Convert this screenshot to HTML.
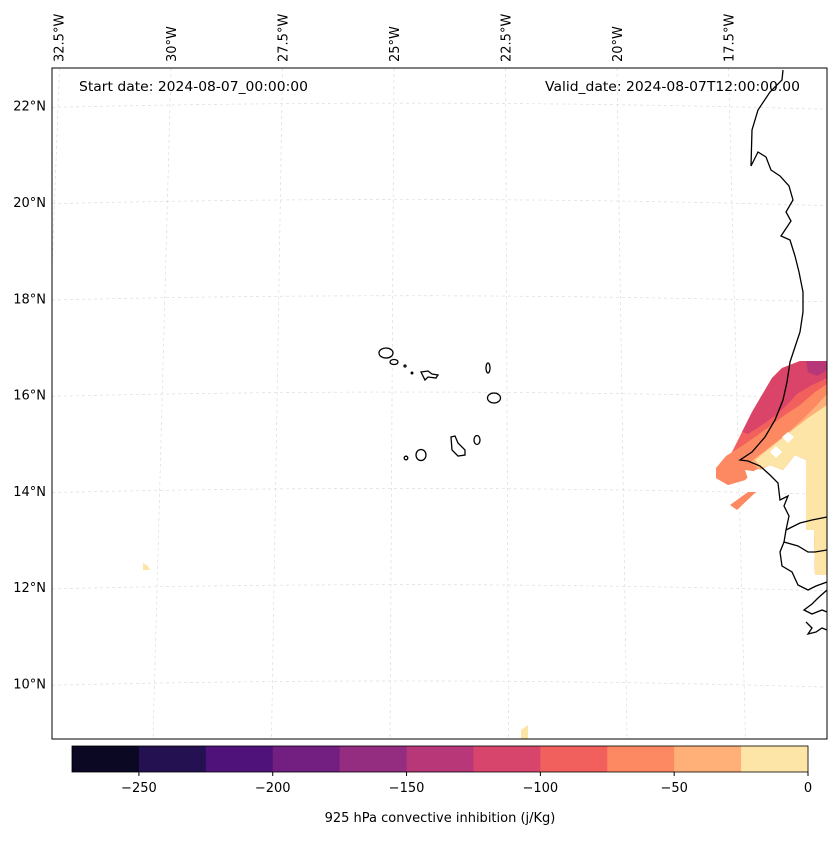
<!DOCTYPE html>
<html><head><meta charset="utf-8">
<style>
body{margin:0;background:#fff;}
svg text{font-family:"DejaVu Sans","Liberation Sans",sans-serif;fill:#000;}
</style></head>
<body>
<svg id="chart" width="837" height="836" viewBox="0 0 837 836" xmlns="http://www.w3.org/2000/svg">
<defs><clipPath id="mapclip"><rect x="52" y="68" width="775" height="671"/></clipPath></defs>
<rect width="837" height="836" fill="#fff"/>
<g id="map" clip-path="url(#mapclip)">
  <g id="grid" stroke="#dddddd" stroke-width="0.7" stroke-dasharray="3,3" fill="none"></g>
  <g id="fills">
    <polygon fill="#f1605d" points="800,361 827,361 827,575 815,575 814,530 806,530 806,460 795,455 783,470 770,465 755,470 745,480 728,485 716,478 716,468 732,452 742,432 752,412 762,395 772,378 782,368"/>
    <polygon fill="#da4468" points="800,361 827,361 827,378 812,385 797,394 787,405 776,415 762,425 748,434 742,432 752,412 762,395 772,378 782,368"/>
    <polygon fill="#b73779" points="806,361 827,361 827,370 817,376 808,372"/>
    <polygon fill="#fc8961" points="827,384 827,575 815,575 814,530 806,530 806,460 795,455 783,470 770,465 755,470 745,480 728,485 716,478 716,468 726,456 742,446 762,432 782,417 800,405 815,392"/>
    <polygon fill="#fc8961" points="748,492 756,492 737,510 730,505"/>
    <polygon fill="#feb078" points="827,394 827,575 815,575 814,530 806,530 806,460 795,455 783,470 770,465 760,470 750,462 766,450 784,436 802,420 816,406"/>
    <polygon fill="#fde5a7" points="827,405 827,575 815,575 814,530 806,530 806,460 795,455 783,470 770,465 762,468 755,460 770,448 790,432 808,418"/>
    <polygon fill="#fff" points="788,432 794,437 788,443 782,437"/>
    <polygon fill="#fff" points="776,446 782,452 776,458 770,452"/>
    <polygon fill="#fff" points="745,470 760,472 770,480 776,490 790,500 806,500 806,530 780,530 770,500 750,485"/>
    <polygon fill="#fde5a7" points="143,563 148,566 150,570 143,570"/>
    <polygon fill="#fde5a7" points="521,730 528,725 528,739 521,739"/>
  </g>
  <g id="coast" stroke="#000" stroke-width="1.3" fill="none">
    <polyline points="783,70 782,80 770,92 758,110 752,130 751,166 758,152 766,157 771,170 780,176 789,186 793,200 786,212 791,221 785,230 781,236 790,240 795,256 799,272 803,292 803,312 800,332 795,347 790,362 787,382 783,400 775,420 765,437 752,452 740,460 748,461 760,466 770,475 778,483 780,500 788,496 784,506 789,516 786,530 784,542 798,546 808,552 815,552 827,550"/>
    <polyline points="786,530 800,523 812,520 827,517"/>
    <polyline points="784,542 780,552 782,566 792,572 798,585 808,590 816,586 827,582"/>
    <polyline points="827,590 818,598 812,604 804,610 812,614 822,610 827,612"/>
    <polyline points="806,622 812,628 808,634 816,632 822,628 827,630"/>
    <ellipse cx="386" cy="353" rx="7" ry="5"/>
    <ellipse cx="394" cy="362" rx="4" ry="2.5"/>
    <circle cx="405" cy="366" r="1"/>
    <circle cx="412" cy="373" r="0.8"/>
    <path d="M421,372 L428,371 L432,374 L438,375 L436,378 L428,377 L425,380 Z"/>
    <ellipse cx="488" cy="368" rx="2" ry="5"/>
    <ellipse cx="494" cy="398" rx="6.5" ry="5"/>
    <ellipse cx="477" cy="440" rx="3" ry="4.5"/>
    <path d="M451,437 L455,436 L458,443 L465,450 L465,455 L458,456 L452,450 Z"/>
    <ellipse cx="421" cy="455" rx="5" ry="5.5"/>
    <circle cx="406" cy="458" r="1.8"/>
  </g>
</g>
<rect x="52" y="68" width="775" height="671" fill="none" stroke="#000" stroke-width="1"/>
<g id="lonlabels" font-size="13"></g>
<g id="latlabels" font-size="13"></g>
<text x="79" y="91" font-size="13" textLength="229" lengthAdjust="spacingAndGlyphs">Start date: 2024-08-07_00:00:00</text>
<text x="545" y="91" font-size="13" textLength="255" lengthAdjust="spacingAndGlyphs">Valid_date: 2024-08-07T12:00:00.00</text>
<g id="cbar"></g>
<text x="440" y="822" font-size="13" text-anchor="middle">925 hPa convective inhibition (j/Kg)</text>
</svg>
<script>
const lonTicks = ["32.5°W","30°W","27.5°W","25°W","22.5°W","20°W","17.5°W"];
const lonValues = [-32.5,-30,-27.5,-25,-22.5,-20,-17.5];
const latTicks = ["22°N","20°N","18°N","16°N","14°N","12°N","10°N"];
const latValues = [22,20,18,16,14,12,10];
const cbLevels = [-275,-250,-225,-200,-175,-150,-125,-100,-75,-50,-25,0];
const cbColors = ["#0a0822","#231151","#4f127b","#721f81","#942c80","#b73779","#d8456c","#f1605d","#fc8961","#feb078","#fde5a7"];
const cbTickValues = [-250,-200,-150,-100,-50,0];
const ns="http://www.w3.org/2000/svg";
function mk(t,a,p){const e=document.createElementNS(ns,t);for(const k in a)e.setAttribute(k,a[k]);p.appendChild(e);return e;}
function lonTop(l){return 171+(l+30)/2.5*111.5;}
function lonBot(l){return 153+(l+30)/2.5*118.5;}
function latY(v){return 202+(20-v)/2*96.3;}
const grid=document.getElementById('grid');
for(let l=-32.5;l<=-15;l+=2.5){
  const ln=mk('line',{x1:lonTop(l),y1:68,x2:lonBot(l),y2:739},grid);
  
  
}
for(let v=24;v>=8;v-=2){
  const y=latY(v);
  const p=mk('path',{d:`M40,${y+2} Q440,${y-8} 840,${y+4}`},grid);
  
  
}
const lg=document.getElementById('lonlabels');
lonValues.forEach((l,i)=>{
  const x=lonTop(l)+(i===0?-1:0);
  const t=mk('text',{x:x+5,y:62,transform:`rotate(-90 ${x+5} 62)`},lg);
  t.textContent=lonTicks[i];
  
  
});
const la=document.getElementById('latlabels');
latValues.forEach((v,i)=>{
  const t=mk('text',{x:46,y:latY(v)+5,'text-anchor':'end'},la);
  t.textContent=latTicks[i];
  
  
});
const cb=document.getElementById('cbar');
const cx=v=>72+(v+275)/275*736;
for(let i=0;i<cbColors.length;i++){
  const r=mk('rect',{x:cx(cbLevels[i]),y:746,width:cx(cbLevels[i+1])-cx(cbLevels[i])+0.5,height:26,fill:cbColors[i]},cb);
  
  
}
const fr=mk('rect',{x:72,y:746,width:736,height:26,fill:'none',stroke:'#000','stroke-width':0.8},cb);


cbTickValues.forEach(v=>{
  const tk=mk('line',{x1:cx(v),y1:772,x2:cx(v),y2:776,stroke:'#000'},cb);
  
  
  const t=mk('text',{x:cx(v),y:792,'font-size':13,'text-anchor':'middle'},cb);
  t.textContent=v<0?'\u2212'+Math.abs(v):String(v);
  
  
});
</script>
</body></html>
